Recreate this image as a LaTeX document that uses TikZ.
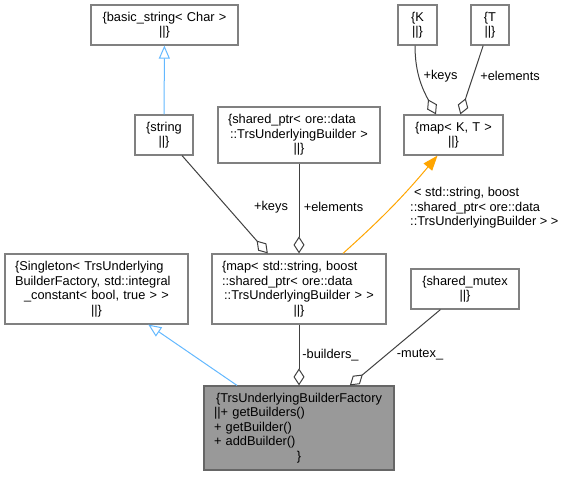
\documentclass[tikz,border=0pt]{standalone}
\usepackage{fontspec}
\setmainfont{Liberation Sans}
\usetikzlibrary{arrows.meta, positioning}
\definecolor{boxC}  {HTML}{808080}
\definecolor{rootC} {HTML}{666666}
\definecolor{rootF} {HTML}{999999}
\definecolor{useC}  {HTML}{404040}
\definecolor{inhC}  {HTML}{63B8FF}
\definecolor{tmplC} {HTML}{FFA500}
\newcommand\ctr[1]{\makebox[\hsize][c]{#1}}
\tikzset{
  cls/.style    = {rectangle, draw=boxC, fill=white, line width=1.2pt,
                   font=\fontsize{12.8}{14.5}\selectfont, align=left,
                   inner xsep=10pt, inner ysep=2pt},
  clsbox/.style 2 args = {cls, text width=#1, minimum height=#2},
  root/.style   = {draw=rootC, fill=rootF},
  agg/.style    = {-{Diamond[open, length=17pt, width=11pt]}, line width=1pt, color=useC},
  inh/.style    = {-{Triangle[open, length=13pt, width=11pt]}, line width=1pt, color=inhC},
  tmpl/.style   = {-{Triangle[length=15pt, width=11pt]}, line width=1pt, color=tmplC},
  elbl/.style   = {font=\fontsize{12.8}{14.5}\selectfont, inner sep=1pt, align=left},
}

\begin{document}
\begin{tikzpicture}[x=1pt, y=-1pt]
\useasboundingbox (0,0) rectangle (569,476);

% ---- Classes ----------------------------------------------------------------
\node[clsbox={127pt}{40pt}] (basic) at (164.5,25)
  {\ctr{\{basic\_string< Char >}\\\ctr{||\}}};

\node[clsbox={38pt}{40pt}] (str) at (164,135)
  {\ctr{\{string}\\\ctr{||\}}};

\node[clsbox={142pt}{56pt}] (sptr) at (299,135)
  {\{shared\_ptr< ore::data\\\ctr{::TrsUnderlyingBuilder >}\\\ctr{||\}}};

\node[clsbox={19pt}{40pt}] (K) at (417.5,25)
  {\ctr{\{K}\\\ctr{||\}}};

\node[clsbox={18pt}{40pt}] (T) at (490,25)
  {\ctr{\{T}\\\ctr{||\}}};

\node[clsbox={79pt}{40pt}] (mapKT) at (453.5,135)
  {\ctr{\{map< K, T >}\\\ctr{||\}}};

\node[clsbox={163pt}{70pt}] (single) at (96.5,289)
  {\{Singleton< TrsUnderlying\\BuilderFactory, std::integral\\
   \ctr{\_constant< bool, true > >}\\\ctr{||\}}};

\node[clsbox={154pt}{70pt}] (mapstr) at (299,289)
  {\{map< std::string, boost\\::shared\_ptr< ore::data\\
   \ctr{::TrsUnderlyingBuilder > >}\\\ctr{||\}}};

\node[clsbox={88pt}{40pt}] (mutex) at (465,289)
  {\ctr{\{shared\_mutex}\\\ctr{||\}}};

\node[clsbox={170pt}{84pt}, root] (factory) at (299,428)
  {\ctr{\{TrsUnderlyingBuilderFactory}\\||+ getBuilders()\\+ getBuilder()\\
   + addBuilder()\\\ctr{\}}};

% ---- Inheritance ------------------------------------------------------------
\draw[inh] (str)     -- (basic);
\draw[inh] (factory) -- (single);

% ---- Members ----------------------------------------------------------------
\draw[agg] ([xshift=-2.5pt]K.south) to[out=-90, in=118] ([xshift=-17.5pt]mapKT.north);
\draw[agg] (T)      -- (mapKT);
\draw[agg] (str)    -- (mapstr);
\draw[agg] (sptr)   -- (mapstr);
\draw[agg] (mapstr) -- (factory);
\draw[agg] (mutex)  -- (factory);

% ---- Template instance ------------------------------------------------------
\draw[tmpl] ([xshift=44pt]mapstr.north) to[bend right=4] ([xshift=-16pt]mapKT.south);

% ---- Edge labels ------------------------------------------------------------
\node[elbl] (lkeysK) at (440.5,76)  {+keys};
\node[elbl] (lelemT) at (510,76)    {+elements};
\node[elbl] (lkeys)  at (271,207)   {+keys};
\node[elbl] (lelem)  at (333.5,207) {+elements};
\node[elbl] (lbuild) at (330.5,355) {-builders\_};
\node[elbl] (lmutex) at (420,355)   {-mutex\_};
\node[elbl, anchor=west] (ltmpl) at (409,208)
  {\hspace*{4pt}< std::string, boost\\::shared\_ptr< ore::data\\::TrsUnderlyingBuilder > >};

\end{tikzpicture}
\end{document}
